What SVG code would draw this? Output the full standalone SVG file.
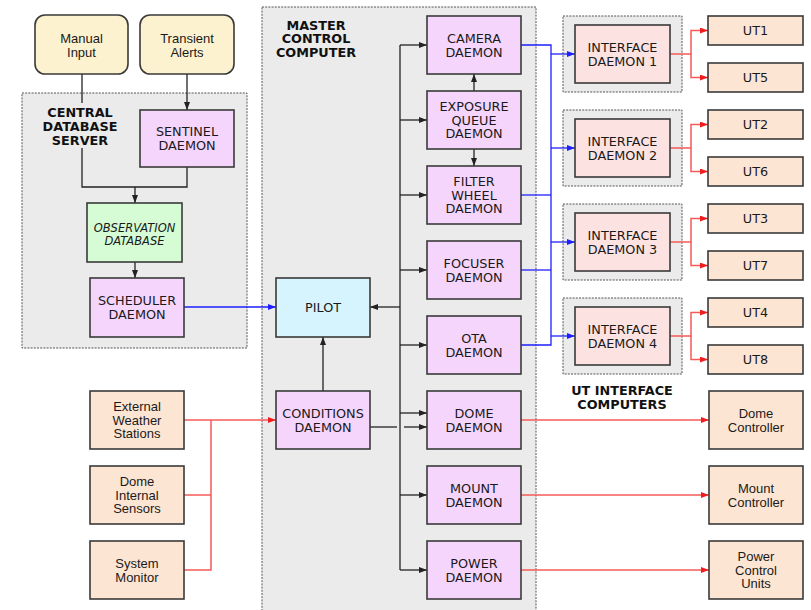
<svg xmlns="http://www.w3.org/2000/svg" width="811" height="610" viewBox="0 0 811 610">
<style>
.grp{fill:#ebebeb;stroke:#555;stroke-width:1;stroke-dasharray:2,1.2}
.box{stroke:#3a3a3a;stroke-width:1.6}
.dae{fill:#f6d5fd}
.ext{fill:#fde5d3}
.inp{fill:#fcf2cf}
.db{fill:#d5fcd5}
.pil{fill:#d5f4fd}
.ifc{fill:#fde2e2}
.t{font-family:"DejaVu Sans",sans-serif;font-size:12.8px;fill:#1a1a1a;text-anchor:middle}
.s{font-family:"Liberation Sans",Arial,sans-serif;font-size:13px;fill:#1a1a1a;text-anchor:middle}
.it{font-family:"DejaVu Sans",sans-serif;font-size:11.5px;font-style:italic;fill:#1a1a1a;text-anchor:middle}
.lb{font-family:"DejaVu Sans",sans-serif;font-size:12.8px;font-weight:bold;fill:#111;text-anchor:middle}
.k{fill:none;stroke:#222;stroke-width:1.3}
.b{fill:none;stroke:#1f1fff;stroke-width:1.3}
.r{fill:none;stroke:#f55a5a;stroke-width:1.5}
.ka{marker-end:url(#ak)}
.ba{marker-end:url(#ab)}
.ra{marker-end:url(#ar)}
</style>
<defs>
<marker id="ak" viewBox="0 0 8 6" refX="8" refY="3" markerWidth="8" markerHeight="6" markerUnits="userSpaceOnUse" orient="auto"><path d="M0,0 L8,3 L0,6 z" fill="#222"/></marker>
<marker id="ab" viewBox="0 0 8 6" refX="8" refY="3" markerWidth="8" markerHeight="6" markerUnits="userSpaceOnUse" orient="auto"><path d="M0,0 L8,3 L0,6 z" fill="#1f1fff"/></marker>
<marker id="ar" viewBox="0 0 8 6" refX="8" refY="3" markerWidth="8" markerHeight="6" markerUnits="userSpaceOnUse" orient="auto"><path d="M0,0 L8,3 L0,6 z" fill="#f01e1e"/></marker>
</defs>
<rect width="811" height="610" fill="#fff"/>

<g id="central-database-server">
<rect class="grp" x="22" y="93" width="225" height="255"/>
<text class="lb"><tspan x="80" y="116.5">CENTRAL</tspan><tspan x="80" y="130.5">DATABASE</tspan><tspan x="80" y="144.5">SERVER</tspan></text>
</g>
<g id="master-control-computer">
<rect class="grp" x="262" y="7" width="274" height="620"/>
<text class="lb"><tspan x="316" y="29.5">MASTER</tspan><tspan x="316" y="43">CONTROL</tspan><tspan x="316" y="56.5">COMPUTER</tspan></text>
</g>
<g id="ut-interface-computers">
<rect class="grp" x="563" y="16" width="119" height="76"/>
<rect class="grp" x="563" y="110" width="119" height="76"/>
<rect class="grp" x="563" y="204" width="119" height="76"/>
<rect class="grp" x="563" y="298" width="119" height="76"/>
<text class="lb"><tspan x="622" y="394.5">UT INTERFACE</tspan><tspan x="622" y="408.5">COMPUTERS</tspan></text>
</g>

<g id="connectors">
<path class="k" d="M82,74 V103"/>
<path class="k" d="M82,148 V187 H187 V167"/>
<path class="k ka" d="M135,187 V203"/>
<path class="k ka" d="M187,74 V110"/>
<path class="k ka" d="M135,262 V278"/>
<path class="b ba" d="M184,307 H276"/>
<path class="k" d="M400,45 V570"/>
<path class="k ka" d="M400,307 H370"/>
<path class="k ka" d="M400,45 H427"/>
<path class="k ka" d="M400,120 H427"/>
<path class="k ka" d="M400,195 H427"/>
<path class="k ka" d="M400,270 H427"/>
<path class="k ka" d="M400,345 H427"/>
<path class="k ka" d="M400,413 H427"/>
<path class="k ka" d="M400,495 H427"/>
<path class="k ka" d="M400,570 H427"/>
<path class="k ka" d="M474,91 V74"/>
<path class="k ka" d="M474,149 V166"/>
<path class="k ka" d="M323,391 V337"/>
<path class="k" d="M370,427 H397"/>
<path class="k ka" d="M404,427 H427"/>
<path class="b" d="M521,45 H551 V345 H521"/>
<path class="b" d="M521,195 H551"/>
<path class="b" d="M521,270 H551"/>
<path class="b ba" d="M551,54 H575"/>
<path class="b ba" d="M551,148 H575"/>
<path class="b ba" d="M551,242 H575"/>
<path class="b ba" d="M551,336 H575"/>
<path class="r ra" d="M670,54 H691 V30.5 H708"/>
<path class="r ra" d="M691,54 V77.5 H708"/>
<path class="r ra" d="M670,148 H691 V124.5 H708"/>
<path class="r ra" d="M691,148 V171.5 H708"/>
<path class="r ra" d="M670,242 H691 V218.5 H708"/>
<path class="r ra" d="M691,242 V265.5 H708"/>
<path class="r ra" d="M670,336 H691 V312.5 H708"/>
<path class="r ra" d="M691,336 V359.5 H708"/>
<path class="r ra" d="M521,420 H709"/>
<path class="r ra" d="M521,495 H709"/>
<path class="r ra" d="M521,570 H709"/>
<path class="r ra" d="M184,420 H276"/>
<path class="r" d="M184,570 H211 V420"/>
<path class="r" d="M184,495 H211"/>
</g>

<g id="manual-input"><rect class="box inp" x="35" y="15" width="93" height="59" rx="10"/><text class="s"><tspan x="81.5" y="42.5">Manual</tspan><tspan x="81.5" y="56.5">Input</tspan></text></g>
<g id="transient-alerts"><rect class="box inp" x="140" y="15" width="94" height="59" rx="10"/><text class="s"><tspan x="187" y="42.5">Transient</tspan><tspan x="187" y="56.5">Alerts</tspan></text></g>
<g id="sentinel-daemon"><rect class="box dae" x="140" y="110" width="94" height="57"/><text class="t"><tspan x="187" y="136.2">SENTINEL</tspan><tspan x="187" y="150.2">DAEMON</tspan></text></g>
<g id="observation-database"><rect class="box db" x="87" y="203" width="95" height="59"/><text class="it"><tspan x="134.5" y="232">OBSERVATION</tspan><tspan x="134.5" y="244.5">DATABASE</tspan></text></g>
<g id="scheduler-daemon"><rect class="box dae" x="90" y="278" width="94" height="59"/><text class="t"><tspan x="137" y="305.2">SCHEDULER</tspan><tspan x="137" y="319.2">DAEMON</tspan></text></g>

<g id="pilot"><rect class="box pil" x="276" y="278" width="94" height="59"/><text class="t" x="323" y="312">PILOT</text></g>
<g id="conditions-daemon"><rect class="box dae" x="276" y="391" width="94" height="58"/><text class="t"><tspan x="323" y="417.7">CONDITIONS</tspan><tspan x="323" y="431.7">DAEMON</tspan></text></g>

<g id="camera-daemon"><rect class="box dae" x="427" y="16" width="94" height="58"/><text class="t"><tspan x="474" y="42.7">CAMERA</tspan><tspan x="474" y="56.7">DAEMON</tspan></text></g>
<g id="exposure-queue-daemon"><rect class="box dae" x="427" y="91" width="94" height="58"/><text class="t"><tspan x="474" y="111.2">EXPOSURE</tspan><tspan x="474" y="124.7">QUEUE</tspan><tspan x="474" y="138.2">DAEMON</tspan></text></g>
<g id="filter-wheel-daemon"><rect class="box dae" x="427" y="166" width="94" height="58"/><text class="t"><tspan x="474" y="186.2">FILTER</tspan><tspan x="474" y="199.7">WHEEL</tspan><tspan x="474" y="213.2">DAEMON</tspan></text></g>
<g id="focuser-daemon"><rect class="box dae" x="427" y="241" width="94" height="58"/><text class="t"><tspan x="474" y="267.7">FOCUSER</tspan><tspan x="474" y="281.7">DAEMON</tspan></text></g>
<g id="ota-daemon"><rect class="box dae" x="427" y="316" width="94" height="58"/><text class="t"><tspan x="474" y="342.7">OTA</tspan><tspan x="474" y="356.7">DAEMON</tspan></text></g>
<g id="dome-daemon"><rect class="box dae" x="427" y="391" width="94" height="58"/><text class="t"><tspan x="474" y="417.7">DOME</tspan><tspan x="474" y="431.7">DAEMON</tspan></text></g>
<g id="mount-daemon"><rect class="box dae" x="427" y="466" width="94" height="58"/><text class="t"><tspan x="474" y="492.7">MOUNT</tspan><tspan x="474" y="506.7">DAEMON</tspan></text></g>
<g id="power-daemon"><rect class="box dae" x="427" y="541" width="94" height="58"/><text class="t"><tspan x="474" y="567.7">POWER</tspan><tspan x="474" y="581.7">DAEMON</tspan></text></g>

<g id="interface-daemon-1"><rect class="box ifc" x="575" y="25" width="95" height="58"/><text class="t"><tspan x="622.5" y="51.7">INTERFACE</tspan><tspan x="622.5" y="65.7">DAEMON 1</tspan></text></g>
<g id="interface-daemon-2"><rect class="box ifc" x="575" y="119" width="95" height="58"/><text class="t"><tspan x="622.5" y="145.7">INTERFACE</tspan><tspan x="622.5" y="159.7">DAEMON 2</tspan></text></g>
<g id="interface-daemon-3"><rect class="box ifc" x="575" y="213" width="95" height="58"/><text class="t"><tspan x="622.5" y="239.7">INTERFACE</tspan><tspan x="622.5" y="253.7">DAEMON 3</tspan></text></g>
<g id="interface-daemon-4"><rect class="box ifc" x="575" y="307" width="95" height="58"/><text class="t"><tspan x="622.5" y="333.7">INTERFACE</tspan><tspan x="622.5" y="347.7">DAEMON 4</tspan></text></g>

<g id="ut1"><rect class="box ext" x="708" y="16" width="95" height="29"/><text class="t" x="755.5" y="35.2">UT1</text></g>
<g id="ut5"><rect class="box ext" x="708" y="63" width="95" height="29"/><text class="t" x="755.5" y="82.2">UT5</text></g>
<g id="ut2"><rect class="box ext" x="708" y="110" width="95" height="29"/><text class="t" x="755.5" y="129.2">UT2</text></g>
<g id="ut6"><rect class="box ext" x="708" y="157" width="95" height="29"/><text class="t" x="755.5" y="176.2">UT6</text></g>
<g id="ut3"><rect class="box ext" x="708" y="204" width="95" height="29"/><text class="t" x="755.5" y="223.2">UT3</text></g>
<g id="ut7"><rect class="box ext" x="708" y="251" width="95" height="29"/><text class="t" x="755.5" y="270.2">UT7</text></g>
<g id="ut4"><rect class="box ext" x="708" y="298" width="95" height="29"/><text class="t" x="755.5" y="317.2">UT4</text></g>
<g id="ut8"><rect class="box ext" x="708" y="345" width="95" height="29"/><text class="t" x="755.5" y="364.2">UT8</text></g>

<g id="dome-controller"><rect class="box ext" x="709" y="391" width="94" height="58"/><text class="s"><tspan x="756" y="418">Dome</tspan><tspan x="756" y="432">Controller</tspan></text></g>
<g id="mount-controller"><rect class="box ext" x="709" y="466" width="94" height="58"/><text class="s"><tspan x="756" y="493">Mount</tspan><tspan x="756" y="507">Controller</tspan></text></g>
<g id="power-control-units"><rect class="box ext" x="709" y="541" width="94" height="58"/><text class="s"><tspan x="756" y="561">Power</tspan><tspan x="756" y="574.5">Control</tspan><tspan x="756" y="588">Units</tspan></text></g>

<g id="external-weather-stations"><rect class="box ext" x="90" y="391" width="94" height="58"/><text class="s"><tspan x="137" y="411">External</tspan><tspan x="137" y="424.5">Weather</tspan><tspan x="137" y="438">Stations</tspan></text></g>
<g id="dome-internal-sensors"><rect class="box ext" x="90" y="466" width="94" height="58"/><text class="s"><tspan x="137" y="486">Dome</tspan><tspan x="137" y="499.5">Internal</tspan><tspan x="137" y="513">Sensors</tspan></text></g>
<g id="system-monitor"><rect class="box ext" x="90" y="541" width="94" height="58"/><text class="s"><tspan x="137" y="568">System</tspan><tspan x="137" y="582">Monitor</tspan></text></g>
</svg>
